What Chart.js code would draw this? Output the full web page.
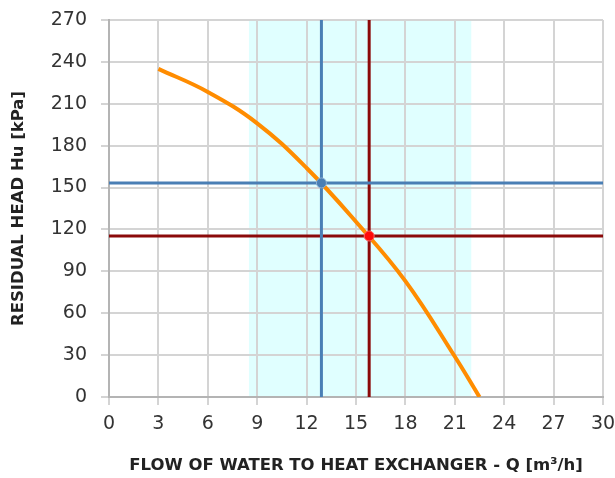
<!DOCTYPE html>
<html>
<head>
<meta charset="utf-8">
<script src="https://cdn.jsdelivr.net/npm/chart.js@4/dist/chart.umd.min.js"></script>
<style>
  html, body { margin: 0; padding: 0; background: #fff; }
  #wrap { width: 615px; height: 478px; }
</style>
</head>
<body>
<div id="wrap"><canvas id="pump-chart"></canvas></div>
<script>
// pump curve: flow Q [m3/h] vs residual head Hu [kPa]
const curveQ = [3, 6, 9, 12, 15, 18, 21, 22.5];
const curveH = [235, 218.5, 196, 164, 125.5, 83, 29, 0];

// working range (shaded band)
const bandQ = [8.5, 22];

// operating points
const blueQ = 12.9, blueH = 153.3;
const redQ = 15.8, redH = 115.3;

const xTicks = [0, 30, 3];   // min, max, step
const yTicks = [0, 270, 30];

const bandPlugin = {
  id: "band",
  beforeDraw(chart) {
    const { ctx, scales: { x, y } } = chart;
    const x0 = x.getPixelForValue(bandQ[0]);
    const x1 = x.getPixelForValue(bandQ[1]);
    const y0 = y.getPixelForValue(yTicks[1]);
    const y1 = y.getPixelForValue(yTicks[0]);
    ctx.save();
    ctx.fillStyle = "#e0ffff";
    ctx.fillRect(x0, y0, x1 - x0, y1 - y0);
    ctx.restore();
  }
};

const lineSet = (data, color, width) => ({
  type: "line",
  data,
  borderColor: color,
  borderWidth: width,
  pointRadius: 0,
  fill: false,
  tension: 0
});

new Chart(document.getElementById("pump-chart"), {
  type: "scatter",
  data: {
    datasets: [
      {
        type: "scatter",
        data: [{ x: blueQ, y: blueH }],
        backgroundColor: "#4a7fb5",
        borderColor: "#8fb3d6",
        borderWidth: 1,
        pointRadius: 5,
        order: 0
      },
      {
        type: "scatter",
        data: [{ x: redQ, y: redH }],
        backgroundColor: "#ff0a0a",
        borderColor: "#ff6666",
        borderWidth: 1,
        pointRadius: 5,
        order: 0
      },
      { ...lineSet([{ x: blueQ, y: yTicks[0] }, { x: blueQ, y: yTicks[1] }], "#4a7fb5", 3), order: 1 },
      { ...lineSet([{ x: xTicks[0], y: blueH }, { x: xTicks[1], y: blueH }], "#4a7fb5", 3), order: 1 },
      { ...lineSet([{ x: redQ, y: yTicks[0] }, { x: redQ, y: yTicks[1] }], "#8b0a0a", 3), order: 1 },
      { ...lineSet([{ x: xTicks[0], y: redH }, { x: xTicks[1], y: redH }], "#8b0a0a", 3), order: 1 },
      {
        type: "line",
        data: curveQ.map((q, i) => ({ x: q, y: curveH[i] })),
        borderColor: "#ff8c00",
        borderWidth: 4,
        pointRadius: 0,
        fill: false,
        tension: 0.4,
        order: 2
      }
    ]
  },
  options: {
    responsive: true,
    maintainAspectRatio: false,
    animation: false,
    layout: { padding: { top: 20, right: 12, left: 0, bottom: 0 } },
    plugins: { legend: { display: false }, tooltip: { enabled: false } },
    scales: {
      x: {
        type: "linear",
        min: xTicks[0],
        max: xTicks[1],
        afterFit(scale) {
          scale.height = 81;
          scale.paddingLeft = 0;
          scale.paddingRight = 0;
        },
        ticks: {
          stepSize: xTicks[2],
          color: "#333",
          padding: 8,
          font: { family: "DejaVu Sans", size: 19 }
        },
        grid: { color: "#d4d4d4", lineWidth: 2, tickLength: 8 },
        border: { color: "#b4b4b4", width: 2 },
        title: {
          display: true,
          text: "FLOW OF WATER TO HEAT EXCHANGER - Q [m³/h]",
          color: "#222",
          padding: { top: 0, bottom: 2 },
          font: { family: "DejaVu Sans", size: 16.5, weight: "bold" }
        }
      },
      y: {
        min: yTicks[0],
        max: yTicks[1],
        afterFit(scale) {
          scale.width = 109;
          scale.paddingTop = 0;
          scale.paddingBottom = 0;
        },
        ticks: {
          stepSize: yTicks[2],
          color: "#333",
          padding: 14,
          font: { family: "DejaVu Sans", size: 19 }
        },
        grid: { color: "#d4d4d4", lineWidth: 2, tickLength: 8 },
        border: { color: "#b4b4b4", width: 2 },
        title: {
          display: true,
          text: "RESIDUAL HEAD Hu [kPa]",
          color: "#222",
          padding: { top: 9, bottom: 0 },
          font: { family: "DejaVu Sans", size: 16.5, weight: "bold" }
        }
      }
    }
  },
  plugins: [bandPlugin]
});
</script>
</body>
</html>
